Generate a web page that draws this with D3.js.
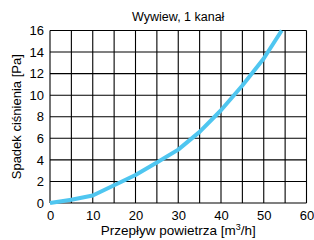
<!DOCTYPE html>
<html>
<head>
<meta charset="utf-8">
<script src="https://cdn.jsdelivr.net/npm/d3@7"></script>
<style>
  body { margin: 0; background: #fff; }
  text { font-family: "Liberation Sans", Arial, sans-serif; fill: #000; }
</style>
</head>
<body>
<div id="chart"></div>
<script>
const flow = [0, 5, 10, 15, 20, 25, 30, 35, 40, 45, 50, 54.2]
const pressure = [0, 0.3, 0.7, 1.65, 2.6, 3.75, 4.95, 6.6, 8.6, 10.9, 13.4, 16]
const xTicks = [0, 10, 20, 30, 40, 50, 60]
const yTicks = [0, 2, 4, 6, 8, 10, 12, 14, 16]
const xGrid = d3.range(0, 61, 5)

const width = 314, height = 240
const margin = { top: 30.5, right: 7.5, bottom: 37, left: 50 }

const svg = d3.select("#chart").append("svg")
    .attr("width", width)
    .attr("height", height)

const x = d3.scaleLinear().domain([0, 60]).range([margin.left, width - margin.right])
const y = d3.scaleLinear().domain([0, 16]).range([height - margin.bottom, margin.top])

// grid
const grid = svg.append("g")
grid.selectAll("line.v")
    .data(xGrid)
    .join("line")
    .attr("x1", d => x(d)).attr("x2", d => x(d))
    .attr("y1", y(0)).attr("y2", y(16))
    .attr("stroke", "#000").attr("stroke-width", 1.1)
grid.selectAll("line.h")
    .data(yTicks)
    .join("line")
    .attr("y1", d => y(d)).attr("y2", d => y(d))
    .attr("x1", x(0)).attr("x2", x(60))
    .attr("stroke", "#000").attr("stroke-width", 1.1)

// axes
const xAxis = svg.append("g")
    .attr("transform", `translate(0,${y(0)})`)
    .call(d3.axisBottom(x).tickValues(xTicks).tickSize(0).tickPadding(8))
xAxis.select(".domain").remove()
xAxis.selectAll("text").style("font-size", "13px").attr("fill", "#000")

const yAxis = svg.append("g")
    .attr("transform", `translate(${x(0)},0)`)
    .call(d3.axisLeft(y).tickValues(yTicks).tickSize(0).tickPadding(6))
yAxis.select(".domain").remove()
yAxis.selectAll("text").style("font-size", "13px").attr("fill", "#000")

// curve
const pts = flow.map((f, i) => [f, pressure[i]])
svg.append("path")
    .datum(pts)
    .attr("fill", "none")
    .attr("stroke", "#4fc6f0")
    .attr("stroke-width", 4)
    .attr("stroke-linejoin", "round")
    .attr("d", d3.line().x(d => x(d[0])).y(d => y(d[1])))

// titles
const cx = (x(0) + x(60)) / 2
svg.append("text")
    .attr("x", cx).attr("y", 21)
    .attr("text-anchor", "middle")
    .style("font-size", "12.5px")
    .text("Wywiew, 1 kanał")

const xt = svg.append("text")
    .attr("x", cx).attr("y", 235)
    .attr("text-anchor", "middle")
    .style("font-size", "13.5px")
xt.append("tspan").text("Przepływ powietrza [m")
xt.append("tspan").attr("dy", -5).style("font-size", "9px").text("3")
xt.append("tspan").attr("dy", 5).text("/h]")

svg.append("text")
    .attr("transform", `translate(21,${(y(0) + y(16)) / 2}) rotate(-90)`)
    .attr("text-anchor", "middle")
    .style("font-size", "13px")
    .text("Spadek ciśnienia [Pa]")
</script>
</body>
</html>
